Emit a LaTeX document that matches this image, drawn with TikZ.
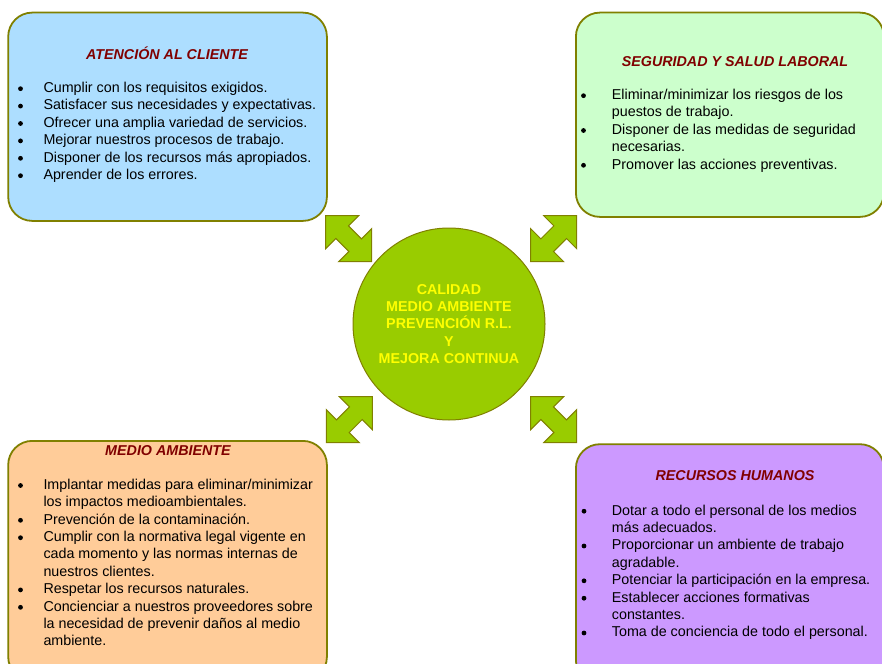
\documentclass[tikz,border=0pt]{standalone}
\usepackage{fontspec}
\setmainfont{Liberation Sans}
\definecolor{olivec}{RGB}{128,128,0}
\definecolor{cblue}{RGB}{173,222,255}
\definecolor{cgreen}{RGB}{204,255,204}
\definecolor{corange}{RGB}{255,204,153}
\definecolor{cpurple}{RGB}{204,153,255}
\definecolor{chub}{RGB}{153,204,0}
\definecolor{ctitle}{RGB}{128,0,0}
\definecolor{cyel}{RGB}{255,255,0}
\begin{document}
\begin{tikzpicture}[x=1pt,y=-1pt,
  panel/.style={draw=olivec, line width=1.8pt, rounded corners=24pt, anchor=north west, inner sep=0pt, shape=rectangle},
  hub/.style={circle, draw=olivec, line width=1pt, fill=chub, inner sep=0pt, minimum size=192pt},
  hubtext/.style={anchor=base, inner sep=0pt, text=cyel, font=\fontsize{14.3}{17.4}\selectfont\bfseries},
  paneltitle/.style={anchor=base, inner sep=0pt, text=ctitle, font=\fontsize{14.3}{17.4}\selectfont\bfseries\itshape},
  bodytext/.style={anchor=base west, inner sep=0pt, font=\fontsize{14.3}{17.4}\selectfont},
  bulletdot/.style={fill=black},
  arrowshape/.style={draw=olivec, line width=1pt, fill=chub, line join=miter},
  dblarrow/.pic={\draw[arrowshape] (0,0) -- (33,0) -- (22.85,10.15) -- (35.85,23.15) -- (46,13) -- (46,46) -- (13,46) -- (23.15,35.85) -- (10.15,22.85) -- (0,33) -- cycle;}
]
\useasboundingbox (0,0) rectangle (882,663);
\clip (0,0) rectangle (882,663);
\fill[white] (0,0) rectangle (882,663);

% panels
\node[panel, fill=cblue, minimum width=318.7pt, minimum height=208.3pt] (atc) at (7.3,11.7) {};
\node[panel, fill=cgreen, minimum width=308pt, minimum height=204.3pt] (seg) at (575,11.7) {};
\node[panel, fill=corange, minimum width=318.7pt, minimum height=240pt] (med) at (7.3,440) {};
\node[panel, fill=cpurple, minimum width=308pt, minimum height=240pt] (rrhh) at (575,443.3) {};

% hub
\node[hub] (core) at (449,324) {};
\foreach \y/\t [count=\i] in {294/{CALIDAD}, 311.3/{MEDIO AMBIENTE}, 328.6/{PREVENCIÓN R.L.}, 346/{Y}, 363.3/{MEJORA CONTINUA}}
  \node[hubtext] (hub\i) at (449,\y) {\t};

% arrows
\pic at (325.7,215.7) {dblarrow};
\pic[xscale=-1] at (576.7,215.7) {dblarrow};
\pic[xscale=-1] at (372.3,396.7) {dblarrow};
\pic at (530.7,396.7) {dblarrow};

% titles
\node[paneltitle] (t1) at (167,59.3) {ATENCIÓN AL CLIENTE};
\node[paneltitle] (t2) at (735,66.7) {SEGURIDAD Y SALUD LABORAL};
\node[paneltitle] (t3) at (168,455) {MEDIO AMBIENTE};
\node[paneltitle] (t4) at (735,480.7) {RECURSOS HUMANOS};

% panel 1
\foreach \y/\t [count=\i] in {92.5/{Cumplir con los requisitos exigidos.}, 109.9/{Satisfacer sus necesidades y expectativas.}, 127.3/{Ofrecer una amplia variedad de servicios.}, 144.7/{Mejorar nuestros procesos de trabajo.}, 162.1/{Disponer de los recursos más apropiados.}, 179.5/{Aprender de los errores.}}
  {\node[bodytext] (a\i) at (43.3,\y) {\t};
   \fill[bulletdot] (20.5,\y-3.8) circle (2.4);}

% panel 2
\foreach \y/\t [count=\i] in {99.5/{Eliminar/minimizar los riesgos de los}, 116.9/{puestos de trabajo.}, 134.3/{Disponer de las medidas de seguridad}, 151.7/{necesarias.}, 169.1/{Promover las acciones preventivas.}}
  \node[bodytext] (s\i) at (611.7,\y) {\t};
\foreach \y in {99.5,134.3,169.1}
  \fill[bulletdot] (583.5,\y-3.8) circle (2.4);

% panel 3
\foreach \y/\t [count=\i] in {489.3/{Implantar medidas para eliminar/minimizar}, 506.7/{los impactos medioambientales.}, 524.1/{Prevención de la contaminación.}, 541.5/{Cumplir con la normativa legal vigente en}, 558.9/{cada momento y las normas internas de}, 576.3/{nuestros clientes.}, 593.7/{Respetar los recursos naturales.}, 611.1/{Concienciar a nuestros proveedores sobre}, 628.5/{la necesidad de prevenir daños al medio}, 645.9/{ambiente.}}
  \node[bodytext] (m\i) at (43.3,\y) {\t};
\foreach \y in {489.3,524.1,541.5,593.7,611.1}
  \fill[bulletdot] (20.5,\y-3.8) circle (2.4);

% panel 4
\foreach \y/\t [count=\i] in {515/{Dotar a todo el personal de los medios}, 532.4/{más adecuados.}, 549.8/{Proporcionar un ambiente de trabajo}, 567.2/{agradable.}, 584.6/{Potenciar la participación en la empresa.}, 602/{Establecer acciones formativas}, 619.4/{constantes.}, 636.8/{Toma de conciencia de todo el personal.}}
  \node[bodytext] (r\i) at (611.7,\y) {\t};
\foreach \y in {515,549.8,584.6,602,636.8}
  \fill[bulletdot] (584,\y-3.8) circle (2.4);
\end{tikzpicture}
\end{document}
